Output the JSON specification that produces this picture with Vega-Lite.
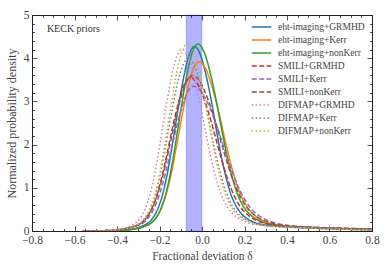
{
  "$schema": "https://vega.github.io/schema/vega-lite/v6.json",
  "width": 340,
  "height": 216,
  "autosize": {"type": "none"},
  "padding": {"left": 32, "top": 15, "right": 18, "bottom": 38},
  "config": {
    "font": "Liberation Serif",
    "view": {"stroke": "#222", "strokeWidth": 1},
    "axis": {
      "labelFont": "Liberation Serif",
      "labelFontSize": 11.5,
      "labelColor": "#444",
      "titleFont": "Liberation Serif",
      "titleFontSize": 11.5,
      "titleFontWeight": "normal",
      "titleColor": "#444",
      "tickColor": "#222",
      "tickWidth": 0.8,
      "domain": false,
      "grid": false,
      "labelFlush": false,
      "labelOverlap": false,
      "labelBound": false
    }
  },
  "datasets": {
    "band": [{"x0": -0.075, "x1": 0.0}],
    "note": [{"x": -0.73, "y": 4.67, "t": "KECK priors"}],
    "curves": [
      {"s":"eht-imaging+GRMHD","x":-0.485,"y":0},{"s":"eht-imaging+GRMHD","x":-0.385,"y":0.013},{"s":"eht-imaging+GRMHD","x":-0.335,"y":0.043},{"s":"eht-imaging+GRMHD","x":-0.285,"y":0.107},{"s":"eht-imaging+GRMHD","x":-0.235,"y":0.278},{"s":"eht-imaging+GRMHD","x":-0.21,"y":0.491},{"s":"eht-imaging+GRMHD","x":-0.185,"y":0.854},{"s":"eht-imaging+GRMHD","x":-0.16,"y":1.409},{"s":"eht-imaging+GRMHD","x":-0.135,"y":2.135},{"s":"eht-imaging+GRMHD","x":-0.11,"y":2.904},{"s":"eht-imaging+GRMHD","x":-0.085,"y":3.587},{"s":"eht-imaging+GRMHD","x":-0.06,"y":4.086},{"s":"eht-imaging+GRMHD","x":-0.035,"y":4.27},{"s":"eht-imaging+GRMHD","x":-0.008,"y":4.086},{"s":"eht-imaging+GRMHD","x":0.02,"y":3.587},{"s":"eht-imaging+GRMHD","x":0.048,"y":2.904},{"s":"eht-imaging+GRMHD","x":0.075,"y":2.135},{"s":"eht-imaging+GRMHD","x":0.103,"y":1.452},{"s":"eht-imaging+GRMHD","x":0.13,"y":0.939},{"s":"eht-imaging+GRMHD","x":0.158,"y":0.598},{"s":"eht-imaging+GRMHD","x":0.185,"y":0.406},{"s":"eht-imaging+GRMHD","x":0.24,"y":0.214},{"s":"eht-imaging+GRMHD","x":0.295,"y":0.141},{"s":"eht-imaging+GRMHD","x":0.405,"y":0.094},{"s":"eht-imaging+GRMHD","x":0.515,"y":0.068},{"s":"eht-imaging+GRMHD","x":0.625,"y":0.047},{"s":"eht-imaging+GRMHD","x":0.8,"y":0.03},
      {"s":"eht-imaging+Kerr","x":-0.488,"y":0},{"s":"eht-imaging+Kerr","x":-0.383,"y":0.012},{"s":"eht-imaging+Kerr","x":-0.33,"y":0.039},{"s":"eht-imaging+Kerr","x":-0.278,"y":0.098},{"s":"eht-imaging+Kerr","x":-0.225,"y":0.255},{"s":"eht-imaging+Kerr","x":-0.199,"y":0.451},{"s":"eht-imaging+Kerr","x":-0.173,"y":0.784},{"s":"eht-imaging+Kerr","x":-0.146,"y":1.294},{"s":"eht-imaging+Kerr","x":-0.12,"y":1.96},{"s":"eht-imaging+Kerr","x":-0.094,"y":2.666},{"s":"eht-imaging+Kerr","x":-0.068,"y":3.293},{"s":"eht-imaging+Kerr","x":-0.041,"y":3.751},{"s":"eht-imaging+Kerr","x":-0.015,"y":3.92},{"s":"eht-imaging+Kerr","x":0.018,"y":3.751},{"s":"eht-imaging+Kerr","x":0.05,"y":3.293},{"s":"eht-imaging+Kerr","x":0.083,"y":2.666},{"s":"eht-imaging+Kerr","x":0.115,"y":1.96},{"s":"eht-imaging+Kerr","x":0.148,"y":1.333},{"s":"eht-imaging+Kerr","x":0.18,"y":0.862},{"s":"eht-imaging+Kerr","x":0.213,"y":0.549},{"s":"eht-imaging+Kerr","x":0.245,"y":0.372},{"s":"eht-imaging+Kerr","x":0.31,"y":0.196},{"s":"eht-imaging+Kerr","x":0.375,"y":0.129},{"s":"eht-imaging+Kerr","x":0.505,"y":0.086},{"s":"eht-imaging+Kerr","x":0.635,"y":0.063},{"s":"eht-imaging+Kerr","x":0.765,"y":0.043},{"s":"eht-imaging+Kerr","x":0.8,"y":0.04},
      {"s":"eht-imaging+nonKerr","x":-0.47,"y":0},{"s":"eht-imaging+nonKerr","x":-0.37,"y":0.013},{"s":"eht-imaging+nonKerr","x":-0.32,"y":0.043},{"s":"eht-imaging+nonKerr","x":-0.27,"y":0.108},{"s":"eht-imaging+nonKerr","x":-0.22,"y":0.281},{"s":"eht-imaging+nonKerr","x":-0.195,"y":0.498},{"s":"eht-imaging+nonKerr","x":-0.17,"y":0.866},{"s":"eht-imaging+nonKerr","x":-0.145,"y":1.429},{"s":"eht-imaging+nonKerr","x":-0.12,"y":2.165},{"s":"eht-imaging+nonKerr","x":-0.095,"y":2.944},{"s":"eht-imaging+nonKerr","x":-0.07,"y":3.637},{"s":"eht-imaging+nonKerr","x":-0.045,"y":4.144},{"s":"eht-imaging+nonKerr","x":-0.02,"y":4.33},{"s":"eht-imaging+nonKerr","x":0.01,"y":4.144},{"s":"eht-imaging+nonKerr","x":0.04,"y":3.637},{"s":"eht-imaging+nonKerr","x":0.07,"y":2.944},{"s":"eht-imaging+nonKerr","x":0.1,"y":2.165},{"s":"eht-imaging+nonKerr","x":0.13,"y":1.472},{"s":"eht-imaging+nonKerr","x":0.16,"y":0.953},{"s":"eht-imaging+nonKerr","x":0.19,"y":0.606},{"s":"eht-imaging+nonKerr","x":0.22,"y":0.411},{"s":"eht-imaging+nonKerr","x":0.28,"y":0.217},{"s":"eht-imaging+nonKerr","x":0.34,"y":0.143},{"s":"eht-imaging+nonKerr","x":0.46,"y":0.095},{"s":"eht-imaging+nonKerr","x":0.58,"y":0.069},{"s":"eht-imaging+nonKerr","x":0.7,"y":0.048},{"s":"eht-imaging+nonKerr","x":0.8,"y":0.03},
      {"s":"SMILI+GRMHD","x":-0.55,"y":0},{"s":"SMILI+GRMHD","x":-0.44,"y":0.011},{"s":"SMILI+GRMHD","x":-0.385,"y":0.036},{"s":"SMILI+GRMHD","x":-0.33,"y":0.089},{"s":"SMILI+GRMHD","x":-0.275,"y":0.231},{"s":"SMILI+GRMHD","x":-0.248,"y":0.408},{"s":"SMILI+GRMHD","x":-0.22,"y":0.71},{"s":"SMILI+GRMHD","x":-0.193,"y":1.172},{"s":"SMILI+GRMHD","x":-0.165,"y":1.775},{"s":"SMILI+GRMHD","x":-0.138,"y":2.414},{"s":"SMILI+GRMHD","x":-0.11,"y":2.982},{"s":"SMILI+GRMHD","x":-0.083,"y":3.397},{"s":"SMILI+GRMHD","x":-0.055,"y":3.55},{"s":"SMILI+GRMHD","x":-0.02,"y":3.397},{"s":"SMILI+GRMHD","x":0.015,"y":2.982},{"s":"SMILI+GRMHD","x":0.05,"y":2.414},{"s":"SMILI+GRMHD","x":0.085,"y":1.775},{"s":"SMILI+GRMHD","x":0.12,"y":1.207},{"s":"SMILI+GRMHD","x":0.155,"y":0.781},{"s":"SMILI+GRMHD","x":0.19,"y":0.497},{"s":"SMILI+GRMHD","x":0.225,"y":0.337},{"s":"SMILI+GRMHD","x":0.295,"y":0.178},{"s":"SMILI+GRMHD","x":0.365,"y":0.117},{"s":"SMILI+GRMHD","x":0.505,"y":0.078},{"s":"SMILI+GRMHD","x":0.645,"y":0.057},{"s":"SMILI+GRMHD","x":0.785,"y":0.039},{"s":"SMILI+GRMHD","x":0.8,"y":0.037},
      {"s":"SMILI+Kerr","x":-0.558,"y":0},{"s":"SMILI+Kerr","x":-0.443,"y":0.01},{"s":"SMILI+Kerr","x":-0.385,"y":0.034},{"s":"SMILI+Kerr","x":-0.328,"y":0.084},{"s":"SMILI+Kerr","x":-0.27,"y":0.218},{"s":"SMILI+Kerr","x":-0.241,"y":0.385},{"s":"SMILI+Kerr","x":-0.213,"y":0.67},{"s":"SMILI+Kerr","x":-0.184,"y":1.106},{"s":"SMILI+Kerr","x":-0.155,"y":1.675},{"s":"SMILI+Kerr","x":-0.126,"y":2.278},{"s":"SMILI+Kerr","x":-0.098,"y":2.814},{"s":"SMILI+Kerr","x":-0.069,"y":3.206},{"s":"SMILI+Kerr","x":-0.04,"y":3.35},{"s":"SMILI+Kerr","x":0,"y":3.206},{"s":"SMILI+Kerr","x":0.04,"y":2.814},{"s":"SMILI+Kerr","x":0.08,"y":2.278},{"s":"SMILI+Kerr","x":0.12,"y":1.675},{"s":"SMILI+Kerr","x":0.16,"y":1.139},{"s":"SMILI+Kerr","x":0.2,"y":0.737},{"s":"SMILI+Kerr","x":0.24,"y":0.469},{"s":"SMILI+Kerr","x":0.28,"y":0.318},{"s":"SMILI+Kerr","x":0.36,"y":0.168},{"s":"SMILI+Kerr","x":0.44,"y":0.111},{"s":"SMILI+Kerr","x":0.6,"y":0.074},{"s":"SMILI+Kerr","x":0.76,"y":0.054},{"s":"SMILI+Kerr","x":0.8,"y":0.05},
      {"s":"SMILI+nonKerr","x":-0.563,"y":0},{"s":"SMILI+nonKerr","x":-0.448,"y":0.011},{"s":"SMILI+nonKerr","x":-0.39,"y":0.036},{"s":"SMILI+nonKerr","x":-0.333,"y":0.09},{"s":"SMILI+nonKerr","x":-0.275,"y":0.234},{"s":"SMILI+nonKerr","x":-0.246,"y":0.414},{"s":"SMILI+nonKerr","x":-0.218,"y":0.72},{"s":"SMILI+nonKerr","x":-0.189,"y":1.188},{"s":"SMILI+nonKerr","x":-0.16,"y":1.8},{"s":"SMILI+nonKerr","x":-0.131,"y":2.448},{"s":"SMILI+nonKerr","x":-0.103,"y":3.024},{"s":"SMILI+nonKerr","x":-0.074,"y":3.445},{"s":"SMILI+nonKerr","x":-0.045,"y":3.6},{"s":"SMILI+nonKerr","x":-0.008,"y":3.445},{"s":"SMILI+nonKerr","x":0.03,"y":3.024},{"s":"SMILI+nonKerr","x":0.068,"y":2.448},{"s":"SMILI+nonKerr","x":0.105,"y":1.8},{"s":"SMILI+nonKerr","x":0.143,"y":1.224},{"s":"SMILI+nonKerr","x":0.18,"y":0.792},{"s":"SMILI+nonKerr","x":0.218,"y":0.504},{"s":"SMILI+nonKerr","x":0.255,"y":0.342},{"s":"SMILI+nonKerr","x":0.33,"y":0.18},{"s":"SMILI+nonKerr","x":0.405,"y":0.119},{"s":"SMILI+nonKerr","x":0.555,"y":0.079},{"s":"SMILI+nonKerr","x":0.705,"y":0.058},{"s":"SMILI+nonKerr","x":0.8,"y":0.045},
      {"s":"DIFMAP+GRMHD","x":-0.545,"y":0},{"s":"DIFMAP+GRMHD","x":-0.445,"y":0.013},{"s":"DIFMAP+GRMHD","x":-0.395,"y":0.042},{"s":"DIFMAP+GRMHD","x":-0.345,"y":0.105},{"s":"DIFMAP+GRMHD","x":-0.295,"y":0.273},{"s":"DIFMAP+GRMHD","x":-0.27,"y":0.483},{"s":"DIFMAP+GRMHD","x":-0.245,"y":0.84},{"s":"DIFMAP+GRMHD","x":-0.22,"y":1.386},{"s":"DIFMAP+GRMHD","x":-0.195,"y":2.1},{"s":"DIFMAP+GRMHD","x":-0.17,"y":2.856},{"s":"DIFMAP+GRMHD","x":-0.145,"y":3.528},{"s":"DIFMAP+GRMHD","x":-0.12,"y":4.019},{"s":"DIFMAP+GRMHD","x":-0.095,"y":4.2},{"s":"DIFMAP+GRMHD","x":-0.065,"y":4.019},{"s":"DIFMAP+GRMHD","x":-0.035,"y":3.528},{"s":"DIFMAP+GRMHD","x":-0.005,"y":2.856},{"s":"DIFMAP+GRMHD","x":0.025,"y":2.1},{"s":"DIFMAP+GRMHD","x":0.055,"y":1.428},{"s":"DIFMAP+GRMHD","x":0.085,"y":0.924},{"s":"DIFMAP+GRMHD","x":0.115,"y":0.588},{"s":"DIFMAP+GRMHD","x":0.145,"y":0.399},{"s":"DIFMAP+GRMHD","x":0.205,"y":0.21},{"s":"DIFMAP+GRMHD","x":0.265,"y":0.139},{"s":"DIFMAP+GRMHD","x":0.385,"y":0.092},{"s":"DIFMAP+GRMHD","x":0.505,"y":0.067},{"s":"DIFMAP+GRMHD","x":0.625,"y":0.046},{"s":"DIFMAP+GRMHD","x":0.8,"y":0.028},
      {"s":"DIFMAP+Kerr","x":-0.538,"y":0},{"s":"DIFMAP+Kerr","x":-0.433,"y":0.012},{"s":"DIFMAP+Kerr","x":-0.38,"y":0.04},{"s":"DIFMAP+Kerr","x":-0.328,"y":0.1},{"s":"DIFMAP+Kerr","x":-0.275,"y":0.26},{"s":"DIFMAP+Kerr","x":-0.249,"y":0.46},{"s":"DIFMAP+Kerr","x":-0.223,"y":0.8},{"s":"DIFMAP+Kerr","x":-0.196,"y":1.32},{"s":"DIFMAP+Kerr","x":-0.17,"y":2.0},{"s":"DIFMAP+Kerr","x":-0.144,"y":2.72},{"s":"DIFMAP+Kerr","x":-0.118,"y":3.36},{"s":"DIFMAP+Kerr","x":-0.091,"y":3.828},{"s":"DIFMAP+Kerr","x":-0.065,"y":4.0},{"s":"DIFMAP+Kerr","x":-0.035,"y":3.828},{"s":"DIFMAP+Kerr","x":-0.005,"y":3.36},{"s":"DIFMAP+Kerr","x":0.025,"y":2.72},{"s":"DIFMAP+Kerr","x":0.055,"y":2.0},{"s":"DIFMAP+Kerr","x":0.085,"y":1.36},{"s":"DIFMAP+Kerr","x":0.115,"y":0.88},{"s":"DIFMAP+Kerr","x":0.145,"y":0.56},{"s":"DIFMAP+Kerr","x":0.175,"y":0.38},{"s":"DIFMAP+Kerr","x":0.235,"y":0.2},{"s":"DIFMAP+Kerr","x":0.295,"y":0.132},{"s":"DIFMAP+Kerr","x":0.415,"y":0.088},{"s":"DIFMAP+Kerr","x":0.535,"y":0.064},{"s":"DIFMAP+Kerr","x":0.655,"y":0.044},{"s":"DIFMAP+Kerr","x":0.8,"y":0.03},
      {"s":"DIFMAP+nonKerr","x":-0.52,"y":0},{"s":"DIFMAP+nonKerr","x":-0.42,"y":0.013},{"s":"DIFMAP+nonKerr","x":-0.37,"y":0.043},{"s":"DIFMAP+nonKerr","x":-0.32,"y":0.108},{"s":"DIFMAP+nonKerr","x":-0.27,"y":0.281},{"s":"DIFMAP+nonKerr","x":-0.245,"y":0.498},{"s":"DIFMAP+nonKerr","x":-0.22,"y":0.866},{"s":"DIFMAP+nonKerr","x":-0.195,"y":1.429},{"s":"DIFMAP+nonKerr","x":-0.17,"y":2.165},{"s":"DIFMAP+nonKerr","x":-0.145,"y":2.944},{"s":"DIFMAP+nonKerr","x":-0.12,"y":3.637},{"s":"DIFMAP+nonKerr","x":-0.095,"y":4.144},{"s":"DIFMAP+nonKerr","x":-0.07,"y":4.33},{"s":"DIFMAP+nonKerr","x":-0.041,"y":4.144},{"s":"DIFMAP+nonKerr","x":-0.013,"y":3.637},{"s":"DIFMAP+nonKerr","x":0.016,"y":2.944},{"s":"DIFMAP+nonKerr","x":0.045,"y":2.165},{"s":"DIFMAP+nonKerr","x":0.074,"y":1.472},{"s":"DIFMAP+nonKerr","x":0.103,"y":0.953},{"s":"DIFMAP+nonKerr","x":0.131,"y":0.606},{"s":"DIFMAP+nonKerr","x":0.16,"y":0.411},{"s":"DIFMAP+nonKerr","x":0.218,"y":0.217},{"s":"DIFMAP+nonKerr","x":0.275,"y":0.143},{"s":"DIFMAP+nonKerr","x":0.39,"y":0.095},{"s":"DIFMAP+nonKerr","x":0.505,"y":0.069},{"s":"DIFMAP+nonKerr","x":0.62,"y":0.048},{"s":"DIFMAP+nonKerr","x":0.8,"y":0.03}
    ]
  },
  "resolve": {"axis": {"x": "independent", "y": "independent"}},
  "layer": [
    {
      "data": {"name": "band"},
      "mark": {"type": "rect", "fill": "#0000ff", "fillOpacity": 0.3, "stroke": "#0000ff", "strokeOpacity": 0.15, "strokeWidth": 1},
      "encoding": {
        "x": {"field": "x0", "type": "quantitative", "scale": {"domain": [-0.8, 0.8], "nice": false, "zero": false}, "axis": null},
        "x2": {"field": "x1"}
      }
    },
    {
      "data": {"name": "curves"},
      "mark": {"type": "line", "strokeWidth": 1.5, "interpolate": "monotone", "clip": true},
      "encoding": {
        "x": {
          "field": "x", "type": "quantitative",
          "scale": {"domain": [-0.8, 0.8], "nice": false, "zero": false},
          "axis": {
            "orient": "bottom",
            "values": [-0.8,-0.75,-0.7,-0.65,-0.6,-0.55,-0.5,-0.45,-0.4,-0.35,-0.3,-0.25,-0.2,-0.15,-0.1,-0.05,0,0.05,0.1,0.15,0.2,0.25,0.3,0.35,0.4,0.45,0.5,0.55,0.6,0.65,0.7,0.75,0.8],
            "tickSize": {"condition": {"test": "abs(datum.value*5-round(datum.value*5))<0.001", "value": -5}, "value": -2.5},
            "labelExpr": "abs(datum.value*5-round(datum.value*5))<0.001 ? format(datum.value, '.1f') : ''",
            "labelPadding": 8,
            "title": "Fractional deviation δ",
            "titlePadding": 2
          }
        },
        "y": {
          "field": "y", "type": "quantitative",
          "scale": {"domain": [0, 5], "nice": false},
          "axis": {
            "orient": "left",
            "values": [0,0.2,0.4,0.6,0.8,1,1.2,1.4,1.6,1.8,2,2.2,2.4,2.6,2.8,3,3.2,3.4,3.6,3.8,4,4.2,4.4,4.6,4.8,5],
            "tickSize": {"condition": {"test": "abs(datum.value-round(datum.value))<0.001", "value": -5}, "value": -2.5},
            "labelExpr": "abs(datum.value-round(datum.value))<0.001 ? format(datum.value, 'd') : ''",
            "labelPadding": 8,
            "title": "Normalized probability density",
            "titleFontSize": 12,
            "titlePadding": 5
          }
        },
        "color": {
          "field": "s", "type": "nominal",
          "scale": {
            "domain": ["eht-imaging+GRMHD","eht-imaging+Kerr","eht-imaging+nonKerr","SMILI+GRMHD","SMILI+Kerr","SMILI+nonKerr","DIFMAP+GRMHD","DIFMAP+Kerr","DIFMAP+nonKerr"],
            "range": ["#1f77b4","#ff7f0e","#2ca02c","#d62728","#9467bd","#8c564b","#e377c2","#7f7f7f","#bcbd22"]
          },
          "legend": {"orient": "none", "legendX": 219, "legendY": 6, "title": null, "padding": 0, "symbolType": "stroke", "symbolStrokeWidth": 1.5, "symbolSize": 380, "labelFont": "Liberation Serif", "labelFontSize": 9.5, "labelColor": "#444", "rowPadding": 0, "clipHeight": 12.2, "labelOffset": 6}
        },
        "strokeDash": {
          "field": "s", "type": "nominal",
          "scale": {
            "domain": ["eht-imaging+GRMHD","eht-imaging+Kerr","eht-imaging+nonKerr","SMILI+GRMHD","SMILI+Kerr","SMILI+nonKerr","DIFMAP+GRMHD","DIFMAP+Kerr","DIFMAP+nonKerr"],
            "range": [[1,0],[1,0],[1,0],[5,2.4],[5,2.4],[5,2.4],[1.5,2.4],[1.5,2.4],[1.5,2.4]]
          },
          "legend": {"orient": "none", "legendX": 219, "legendY": 6, "title": null, "padding": 0, "symbolType": "stroke", "symbolStrokeWidth": 1.5, "symbolSize": 380, "labelFont": "Liberation Serif", "labelFontSize": 9.5, "labelColor": "#444", "rowPadding": 0, "clipHeight": 12.2, "labelOffset": 6}
        }
      }
    },
    {
      "data": {"name": "note"},
      "mark": {"type": "text", "align": "left", "baseline": "middle", "font": "Liberation Serif", "fontSize": 10, "color": "#333"},
      "encoding": {
        "text": {"field": "t"},
        "x": {
          "field": "x", "type": "quantitative",
          "scale": {"domain": [-0.8, 0.8], "nice": false, "zero": false},
          "axis": {
            "orient": "top",
            "values": [-0.8,-0.75,-0.7,-0.65,-0.6,-0.55,-0.5,-0.45,-0.4,-0.35,-0.3,-0.25,-0.2,-0.15,-0.1,-0.05,0,0.05,0.1,0.15,0.2,0.25,0.3,0.35,0.4,0.45,0.5,0.55,0.6,0.65,0.7,0.75,0.8],
            "tickSize": {"condition": {"test": "abs(datum.value*5-round(datum.value*5))<0.001", "value": -5}, "value": -2.5},
            "labels": false,
            "title": null
          }
        },
        "y": {
          "field": "y", "type": "quantitative",
          "scale": {"domain": [0, 5], "nice": false},
          "axis": {
            "orient": "right",
            "values": [0,0.2,0.4,0.6,0.8,1,1.2,1.4,1.6,1.8,2,2.2,2.4,2.6,2.8,3,3.2,3.4,3.6,3.8,4,4.2,4.4,4.6,4.8,5],
            "tickSize": {"condition": {"test": "abs(datum.value-round(datum.value))<0.001", "value": -5}, "value": -2.5},
            "labels": false,
            "title": null
          }
        }
      }
    }
  ]
}
